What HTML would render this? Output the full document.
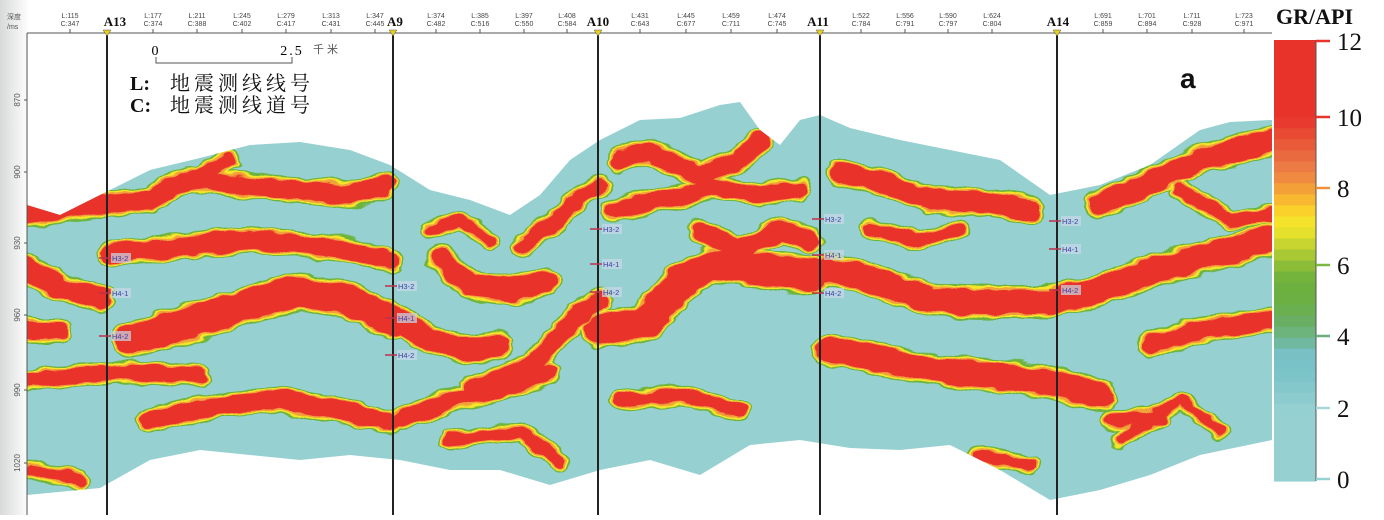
<!DOCTYPE html>
<html><head><meta charset="utf-8"><style>
html,body{margin:0;padding:0;background:#fff;}
body{width:1384px;height:515px;overflow:hidden;position:relative;font-family:"Liberation Sans","Noto Sans CJK SC",sans-serif;}
</style></head><body>
<svg id="s" width="1384" height="515" viewBox="0 0 1384 515" xmlns="http://www.w3.org/2000/svg">
<defs>
<linearGradient id="lg" x1="0" x2="1" y1="0" y2="0"><stop offset="0" stop-color="#d8dad9"/><stop offset="1" stop-color="#ffffff"/></linearGradient>
<clipPath id="cp"><path id="bodyclip" d=""/></clipPath>
<filter id="rough" x="-5%" y="-20%" width="110%" height="140%">
<feTurbulence type="fractalNoise" baseFrequency="0.04 0.08" numOctaves="2" seed="3"/>
<feDisplacementMap in="SourceGraphic" scale="10" xChannelSelector="R" yChannelSelector="G"/>
</filter>
</defs>
<rect x="0" y="0" width="30" height="515" fill="url(#lg)"/>
<path id="body" d="" fill="#96d0d1"/>
<g clip-path="url(#cp)"><g id="bands" filter="url(#rough)"></g></g>
<g id="ax" font-family="Liberation Sans, sans-serif"></g>
</svg>
<script>
(function(){
const NS="http://www.w3.org/2000/svg";
const topPts=[[27,205],[60,215],[100,195],[150,170],[200,158],[250,145],[300,142],[350,150],[390,165],[430,190],[470,200],[510,215],[540,195],[570,160],[600,140],[640,120],[680,118],[720,105],[740,102],[760,130],[780,145],[800,120],[820,115],[850,128],[900,140],[950,150],[1000,160],[1050,195],[1100,185],[1150,165],[1200,130],[1230,122],[1272,120]];
const botPts=[[27,495],[100,488],[150,460],[200,450],[250,455],[300,460],[350,455],[400,460],[450,470],[500,470],[550,485],[600,470],[650,460],[700,475],[750,445],[800,440],[850,448],[900,450],[950,445],[1000,470],[1050,500],[1100,490],[1150,475],[1200,455],[1272,440]];
let d="M"+topPts.map(p=>p.join(",")).join(" L")+" L"+botPts.slice().reverse().map(p=>p.join(",")).join(" L")+" Z";
document.getElementById("body").setAttribute("d",d);
document.getElementById("bodyclip").setAttribute("d",d);
const bands=[
[18,[[27,215],[100,205],[150,200],[190,178],[230,185],[300,190],[350,195],[385,185]]],
[18,[[110,255],[150,250],[200,245],[250,240],[300,245],[350,250],[390,262]]],
[22,[[27,268],[60,288],[100,298]]],
[30,[[130,340],[200,320],[260,300],[300,292],[350,300],[392,322]]],
[16,[[27,330],[60,330]]],
[14,[[27,380],[80,375],[130,372],[200,376]]],
[18,[[150,420],[220,405],[280,400],[340,410],[390,422]]],
[12,[[30,470],[80,480]]],
[22,[[440,258],[470,285],[510,290],[545,282]]],
[22,[[400,320],[430,340],[470,350],[500,345]]],
[18,[[470,390],[530,367],[587,307],[600,300]]],
[14,[[523,247],[550,225],[580,197],[600,185]]],
[30,[[600,330],[647,322],[680,282],[713,265],[760,270],[813,275]]],
[16,[[613,210],[680,197],[713,187],[760,195],[800,190]]],
[18,[[620,160],[650,152],[700,175],[740,160],[760,140]]],
[18,[[700,230],[740,250],[780,230],[810,240]]],
[16,[[400,420],[450,400],[500,390],[550,372]]],
[12,[[450,440],[520,432],[560,460]]],
[12,[[620,400],[680,395],[740,410]]],
[20,[[840,172],[880,182],[930,200],[980,202],[1030,210]]],
[25,[[830,270],[880,282],[930,300],[980,302],[1050,302],[1100,290],[1150,272],[1200,258],[1272,240]]],
[25,[[830,350],[880,360],[950,372],[1000,376],[1050,382],[1100,395]]],
[22,[[1100,205],[1150,182],[1200,160],[1272,140]]],
[18,[[1150,345],[1200,330],[1272,320]]],
[12,[[1110,420],[1160,418]]],
[12,[[870,230],[920,240],[960,230]]],
[12,[[980,455],[1030,465]]],
[10,[[1120,440],[1180,400],[1220,430]]],
[12,[[200,175],[230,160]]],
[10,[[430,230],[460,220],[490,240]]],
[12,[[1180,190],[1230,220],[1272,215]]]
];
const g=document.getElementById("bands");
const layers=[["#6db33f",9],["#f5e62a",6],["#f2a23a",3],["#e8332a",0]];
for(const [c,a] of layers){for(const [w,pts] of bands){
 const p=document.createElementNS(NS,"polyline");
 p.setAttribute("points",pts.map(q=>q.join(",")).join(" "));
 p.setAttribute("fill","none");p.setAttribute("stroke",c);p.setAttribute("stroke-width",w+a);
 p.setAttribute("stroke-linecap","round");p.setAttribute("stroke-linejoin","round");g.appendChild(p);}}
const ax=document.getElementById("ax");
let h='';
h+='<line x1="27" y1="33" x2="1272" y2="33" stroke="#555" stroke-width="1"/>';
h+='<line x1="27" y1="33" x2="27" y2="515" stroke="#555" stroke-width="1"/>';
h+='<text x="7" y="19" font-size="7" fill="#555" font-family="Noto Sans CJK SC">深度</text><text x="7" y="29" font-size="7" fill="#555">/ms</text>';
[[870,100],[900,172],[930,243],[960,315],[990,390],[1020,463]].forEach(([v,y])=>{
 h+=`<line x1="24" y1="${y}" x2="27" y2="${y}" stroke="#555"/><text transform="translate(20,${y}) rotate(-90)" font-size="8" text-anchor="middle" fill="#555">${v}</text>`;});
const tl=[[70,115,347],[153,177,374],[197,211,388],[242,245,402],[286,279,417],[331,313,431],[375,347,445],[436,374,482],[480,385,516],[524,397,550],[567,408,584],[640,431,643],[686,445,677],[731,459,711],[777,474,745],[861,522,784],[905,556,791],[948,590,797],[992,624,804],[1103,691,859],[1147,701,894],[1192,711,928],[1244,723,971]];
tl.forEach(([x,l,c])=>{h+=`<text x="${x}" y="18" font-size="7" text-anchor="middle" fill="#444">L:${l}</text><text x="${x}" y="26" font-size="7" text-anchor="middle" fill="#444">C:${c}</text><line x1="${x}" y1="29" x2="${x}" y2="33" stroke="#555"/>`;});
[[107,"A13",115],[393,"A9",395],[598,"A10",598],[820,"A11",818],[1057,"A14",1058]].forEach(([x,t,tx])=>{
 h+=`<line x1="${x}" y1="33" x2="${x}" y2="515" stroke="#222" stroke-width="2"/><polygon points="${x-4},30 ${x+4},30 ${x},36" fill="#e8d020" stroke="#555" stroke-width="0.5"/><text x="${tx}" y="26" font-size="13" font-weight="bold" text-anchor="middle" font-family="Liberation Serif" fill="#111">${t}</text>`;});
h+='<text x="155" y="55" font-size="14" text-anchor="middle" font-family="Liberation Serif">0</text><text x="292" y="55" font-size="14" text-anchor="middle" font-family="Liberation Serif" letter-spacing="2">2.5</text><text x="313" y="53" font-size="11" fill="#555" font-family="Noto Sans CJK SC" letter-spacing="3">千米</text>';
h+='<polyline points="156,57 156,63 292,63 292,57" fill="none" stroke="#555"/>';
h+='<text x="130" y="90" font-size="20" font-family="Liberation Serif, Noto Serif CJK SC, serif" fill="#111"><tspan font-weight="bold">L:</tspan><tspan x="170" letter-spacing="4">地震测线线号</tspan></text>';
h+='<text x="130" y="112" font-size="20" font-family="Liberation Serif, Noto Serif CJK SC, serif" fill="#111"><tspan font-weight="bold">C:</tspan><tspan x="170" letter-spacing="4">地震测线道号</tspan></text>';
h+='<text x="1180" y="88" font-size="28" font-weight="bold" fill="#111">a</text>';
[[107,258,"H3-2"],[107,293,"H4-1"],[107,336,"H4-2"],[393,286,"H3-2"],[393,318,"H4-1"],[393,355,"H4-2"],[598,229,"H3-2"],[598,264,"H4-1"],[598,292,"H4-2"],[820,219,"H3-2"],[820,255,"H4-1"],[820,293,"H4-2"],[1057,221,"H3-2"],[1057,249,"H4-1"],[1057,290,"H4-2"]].forEach(([x,y,t])=>{
 h+=`<line x1="${x-8}" y1="${y}" x2="${x+4}" y2="${y}" stroke="#c0304a" stroke-width="1.5"/><rect x="${x+4}" y="${y-5}" width="20" height="10" fill="#c8d8ea" opacity="0.7"/><text x="${x+5}" y="${y+3}" font-size="7.5" fill="#4040a0">${t}</text>`;});
const cols=["#e8332a","#e8332a","#e8332a","#e8332a","#e8332a","#e8332a","#e8332a","#e83a2e","#e84a32","#e85a38","#ea6a40","#ec7a44","#f08a40","#f4a038","#f8b830","#fad02a","#f5e22a","#e4e02c","#c8d430","#a8c834","#8cbc38","#74b43c","#6cb040","#6cb044","#6aaf50","#6aae64","#6cb47c","#70b8a0","#78c0c4","#78c2c8","#7cc4c8","#84c8cc","#8ccccf","#94cfd1","#96d0d1","#96d0d1","#96d0d1","#96d0d1","#96d0d1","#96d0d1"];
const y0=40,y1=481,n=cols.length,hh=(y1-y0)/n;
cols.forEach((c,i)=>{h+=`<rect x="1274" y="${(y0+i*hh).toFixed(1)}" width="42" height="${(hh+0.6).toFixed(1)}" fill="${c}"/>`;});
h+='<line x1="1316" y1="40" x2="1316" y2="481" stroke="#555" stroke-width="1"/>';
[[12,41,"#e8332a"],[10,117,"#e8332a"],[8,188,"#f0903a"],[6,265,"#7cb840"],[4,336,"#6aaf80"],[2,408,"#a8d8dc"],[0,479,"#96d0d1"]].forEach(([v,y,c])=>{
 h+=`<line x1="1316" y1="${y}" x2="1330" y2="${y}" stroke="${c}" stroke-width="2.5"/><text x="1337" y="${y+9}" font-size="25" font-family="Liberation Serif" fill="#111">${v}</text>`;});
h+='<text x="1276" y="24" font-size="22" font-weight="bold" font-family="Liberation Serif" fill="#111">GR/API</text>';
ax.innerHTML=h;
})();
</script>
</body></html>
